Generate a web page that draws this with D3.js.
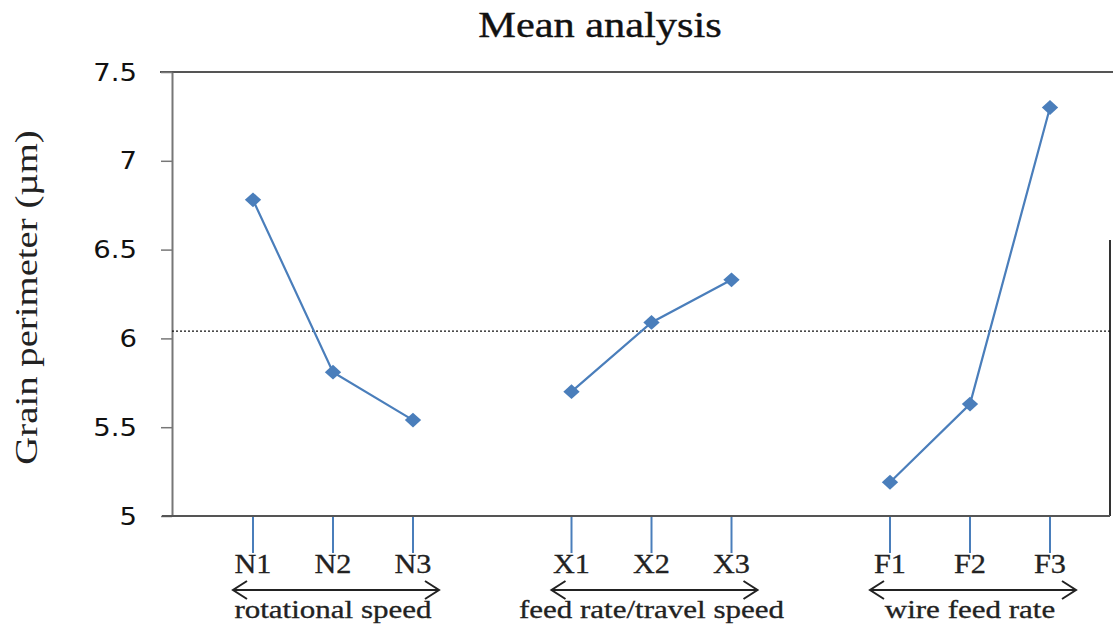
<!DOCTYPE html>
<html>
<head>
<meta charset="utf-8">
<script src="https://cdn.jsdelivr.net/npm/d3@7"></script>
<style>
  html, body { margin: 0; background: #fff; }
  svg { display: block; }
</style>
</head>
<body>
<svg id="chart" width="1113" height="630"></svg>
<script>
// Process factors, their levels and the mean grain perimeter (µm) at each level
const factors = ["rotational speed", "feed rate/travel speed", "wire feed rate"];
const levels = [["N1", "N2", "N3"], ["X1", "X2", "X3"], ["F1", "F2", "F3"]];
const grainPerimeter = [
  [6.78, 5.81, 5.54],
  [5.70, 6.09, 6.33],
  [5.19, 5.63, 7.30]
];
const yTicks = [5, 5.5, 6, 6.5, 7, 7.5];

// Overall mean of all level means (dotted reference line)
const overallMean = d3.mean(grainPerimeter.flat());

const svg = d3.select("#chart");
const plot = { left: 172, right: 1110, top: 72, bottom: 516 };
const serif = "'Liberation Serif', 'Times New Roman', serif";
const lineBlue = "#4a7ebb";

const y = d3.scaleLinear().domain([5, 7.5]).range([plot.bottom, plot.top]);
const groupX = d3.scalePoint().domain(factors).range([plot.left + 161, plot.right - 140]);
const levelX = d3.scalePoint().domain([0, 1, 2]).range([-80, 80]);
const xPos = (g, i) => groupX(factors[g]) + levelX(i);

// widen glyphs horizontally by factor k
function stretch(sel, k) {
  sel.each(function () {
    const n = this.getComputedTextLength();
    this.setAttribute("textLength", n * k);
    this.setAttribute("lengthAdjust", "spacingAndGlyphs");
  });
}

// Title
svg.append("text")
  .attr("x", 600).attr("y", 37)
  .attr("text-anchor", "middle")
  .attr("font-family", serif).attr("font-size", 35)
  .attr("fill", "#111").attr("stroke", "#111").attr("stroke-width", 0.4)
  .text("Mean analysis")
  .call(stretch, 1.21);

// Frame: top edge and partial right edge
svg.append("line")
  .attr("x1", plot.left - 12).attr("x2", 1113)
  .attr("y1", y(7.5)).attr("y2", y(7.5))
  .attr("stroke", "#555").attr("stroke-width", 2);
svg.append("line")
  .attr("x1", plot.right).attr("x2", plot.right)
  .attr("y1", 240).attr("y2", plot.bottom)
  .attr("stroke", "#333").attr("stroke-width", 2);

// Y axis
const yAxis = svg.append("g")
  .attr("transform", `translate(${plot.left},0)`)
  .call(d3.axisLeft(y).tickValues(yTicks).tickFormat(d3.format("")).tickSize(11).tickSizeOuter(0).tickPadding(24));
yAxis.select(".domain").attr("stroke", "#777").attr("stroke-width", 2);
yAxis.selectAll(".tick line").attr("stroke", "#777").attr("stroke-width", 1.5);
yAxis.selectAll(".tick text")
  .attr("font-family", "'DejaVu Sans', Verdana, sans-serif")
  .attr("font-size", 25)
  .attr("fill", "#111")
  .call(stretch, 1.1);

// Y axis title
svg.append("text")
  .attr("transform", `translate(37,${(132 + 463) / 2}) rotate(-90)`)
  .attr("text-anchor", "middle")
  .attr("font-family", serif).attr("font-size", 31)
  .attr("fill", "#222")
  .text("Grain perimeter (µm)")
  .call(stretch, 1.25);

// Bottom axis line
svg.append("line")
  .attr("x1", plot.left - 10).attr("x2", plot.right)
  .attr("y1", plot.bottom).attr("y2", plot.bottom)
  .attr("stroke", "#555").attr("stroke-width", 2);

// Overall mean (dotted)
svg.append("line")
  .attr("x1", plot.left).attr("x2", plot.right)
  .attr("y1", y(overallMean)).attr("y2", y(overallMean))
  .attr("stroke", "#111").attr("stroke-width", 1.3)
  .attr("stroke-dasharray", "2,2");

// Level ticks, labels, factor arrows and names
factors.forEach((f, g) => {
  const grp = svg.append("g");
  levels[g].forEach((lv, i) => {
    grp.append("line")
      .attr("x1", xPos(g, i)).attr("x2", xPos(g, i))
      .attr("y1", plot.bottom + 1).attr("y2", plot.bottom + 37)
      .attr("stroke", lineBlue).attr("stroke-width", 2);
    grp.append("text")
      .attr("x", xPos(g, i)).attr("y", 573)
      .attr("text-anchor", "middle")
      .attr("font-family", serif).attr("font-size", 27)
      .attr("fill", "#222").attr("stroke", "#222").attr("stroke-width", 0.3)
      .text(lv)
      .call(stretch, 1.12);
  });

  const c = groupX(f) + 3, half = 103, ay = 590;
  grp.append("path")
    .attr("d", `M${c - half},${ay}H${c + half}` +
               `M${c - half + 14},${ay - 9}L${c - half},${ay}L${c - half + 14},${ay + 9}` +
               `M${c + half - 14},${ay - 9}L${c + half},${ay}L${c + half - 14},${ay + 9}`)
    .attr("fill", "none").attr("stroke", "#222").attr("stroke-width", 2);

  grp.append("text")
    .attr("x", groupX(f)).attr("y", 618)
    .attr("text-anchor", "middle")
    .attr("font-family", serif).attr("font-size", 25)
    .attr("fill", "#222").attr("stroke", "#222").attr("stroke-width", 0.3)
    .text(f)
    .call(stretch, 1.24);
});

// Mean-effect lines with diamond markers
const line = d3.line().x(d => d.x).y(d => d.y);
const diamond = d3.symbol(d3.symbolSquare, 110);
grainPerimeter.forEach((vals, g) => {
  const pts = vals.map((v, i) => ({ x: xPos(g, i), y: y(v) }));
  svg.append("path")
    .attr("d", line(pts))
    .attr("fill", "none").attr("stroke", lineBlue).attr("stroke-width", 2.2);
  svg.selectAll(null).data(pts).join("path")
    .attr("d", diamond)
    .attr("transform", d => `translate(${d.x},${d.y}) scale(1.1,1) rotate(45)`)
    .attr("fill", lineBlue);
});
</script>
</body>
</html>
